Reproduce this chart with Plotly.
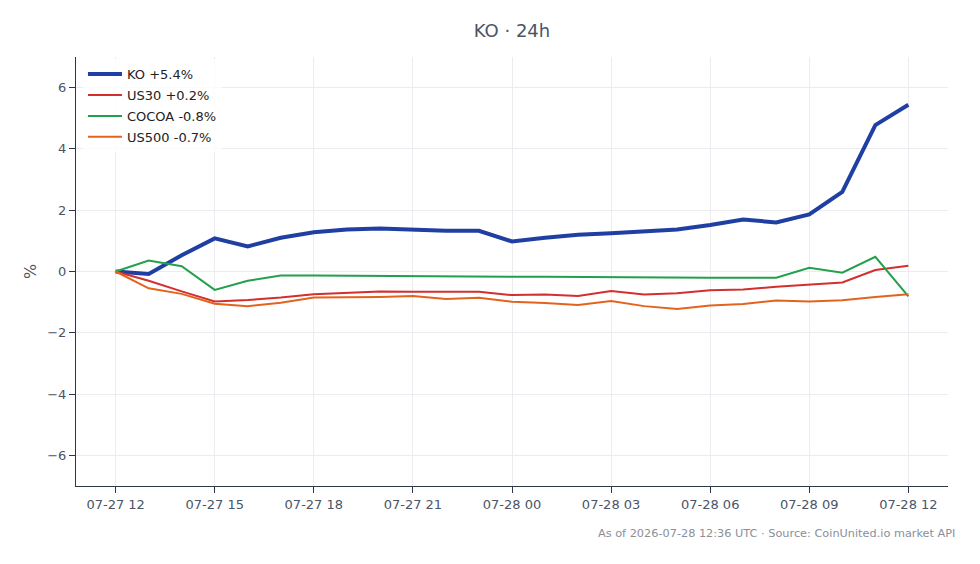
import plotly.graph_objects as go
import pandas as pd

times = pd.date_range("2026-07-27 12:00", "2026-07-28 12:00", freq="h")

ko = [0.0, -0.08, 0.53, 1.08, 0.82, 1.1, 1.28, 1.37, 1.4, 1.36, 1.33, 1.33, 0.98,
      1.1, 1.2, 1.25, 1.3, 1.37, 1.52, 1.7, 1.6, 1.86, 2.6, 4.78, 5.44]
us30 = [0.0, -0.3, -0.65, -0.98, -0.93, -0.85, -0.74, -0.7, -0.65, -0.66, -0.66, -0.66, -0.77,
        -0.75, -0.8, -0.64, -0.75, -0.71, -0.61, -0.59, -0.5, -0.44, -0.36, 0.05, 0.19]
cocoa = [0.0, 0.36, 0.17, -0.6, -0.3, -0.13, -0.13, -0.14, -0.14, -0.15, -0.15, -0.16, -0.17,
         -0.17, -0.18, -0.18, -0.19, -0.19, -0.2, -0.2, -0.2, 0.12, -0.04, 0.48, -0.81]
us500 = [0.0, -0.55, -0.73, -1.05, -1.13, -1.02, -0.85, -0.85, -0.83, -0.8, -0.9, -0.86, -0.99,
         -1.03, -1.09, -0.96, -1.13, -1.22, -1.11, -1.06, -0.95, -0.98, -0.94, -0.83, -0.74]

series_names = ["KO +5.4%", "US30 +0.2%", "COCOA -0.8%", "US500 -0.7%"]
series_values = [ko, us30, cocoa, us500]
series_colors = ["#1f3fa3", "#d32f2f", "#22a04b", "#e4631c"]
series_widths = [4, 2, 2, 2]

font_family = "DejaVu Sans, Verdana, sans-serif"
text_color = "#4a5568"
axis_color = "#2d3748"

fig = go.Figure()
for name, vals, col, w in zip(series_names, series_values, series_colors, series_widths):
    fig.add_trace(go.Scatter(x=times, y=vals, mode="lines", name=name, legendgroup=name,
                             line=dict(color=col, width=w)))

pad = pd.Timedelta(minutes=72)
fig.add_shape(type="line", xref="paper", x0=0, x1=1, yref="y", y0=0, y1=0,
              line=dict(color="#8a94a6", width=1, dash="dash"), layer="below")

fig.update_layout(
    width=980, height=564,
    margin=dict(l=76, r=32, t=57, b=78),
    paper_bgcolor="white", plot_bgcolor="white",
    font=dict(family=font_family, size=13, color=text_color),
    title=dict(text="KO · 24h", x=0.5, xref="paper", xanchor="center",
               y=0.945, yanchor="middle", font=dict(size=18, color=text_color)),
    showlegend=True,
    legend=dict(x=0.008, y=0.995, xanchor="left", yanchor="top",
                bgcolor="rgba(255,255,255,0.8)", font=dict(size=13, color="#222"),
                tracegroupgap=1, itemwidth=34),
    xaxis=dict(range=[times[0] - pad, times[-1] + pad], type="date",
               tickformat="%m-%d %H", dtick=3 * 3600 * 1000,
               tick0="2026-07-27 12:00",
               showgrid=True, gridcolor="#ececf0", gridwidth=1,
               showline=True, linecolor=axis_color, linewidth=1,
               ticks="outside", ticklen=6, tickcolor=axis_color,
               zeroline=False, tickfont=dict(size=13, color=text_color)),
    yaxis=dict(range=[-7, 7], dtick=2, tick0=0,
               showgrid=True, gridcolor="#ececf0", gridwidth=1,
               showline=True, linecolor=axis_color, linewidth=1,
               ticks="outside", ticklen=6, tickcolor=axis_color,
               zeroline=False, title=dict(text="%", standoff=6),
               tickfont=dict(size=13, color=text_color)),
)

fig.add_annotation(text="As of 2026-07-28 12:36 UTC · Source: CoinUnited.io market API",
                   xref="paper", yref="paper", x=1.01, y=-0.11, xanchor="right",
                   yanchor="middle", showarrow=False,
                   font=dict(size=11.3, color="#8a8f99"))

fig.write_html("out.html")
